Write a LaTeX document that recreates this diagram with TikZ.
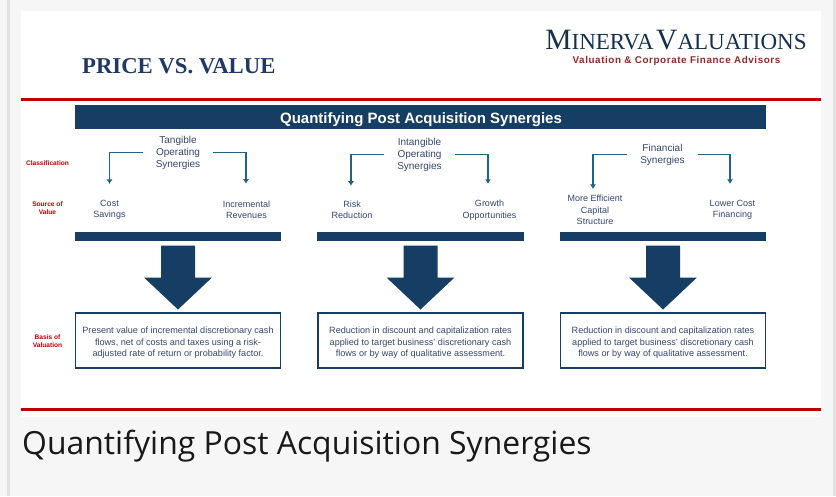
\documentclass[tikz,border=0pt]{standalone}
\usepackage{fontspec}
\setmainfont{Liberation Sans}
\newfontfamily\serifbody{Liberation Serif}
\newfontfamily\captionfont{Open Sans}
\usetikzlibrary{arrows.meta,calc}
\definecolor{navy}{HTML}{163E64}
\definecolor{ink}{HTML}{34466F}
\definecolor{titleink}{HTML}{203864}
\definecolor{redline}{HTML}{C00000}
\definecolor{conn}{HTML}{1F6485}
\definecolor{page}{HTML}{F6F6F6}
\definecolor{edgegray}{HTML}{E2E2E2}
\definecolor{logoink}{HTML}{14304F}
\definecolor{logored}{HTML}{8E2A2A}
\tikzset{
  x=1pt,y=-1pt,
  bar/.style={fill=navy,draw=none},
  redrule/.style={draw=redline,line width=3pt},
  lab/.style={inner sep=0pt,align=center,text=ink,font=\fontsize{9}{11.5}\selectfont},
  toplab/.style={inner sep=0pt,align=center,text=ink,font=\fontsize{10}{12}\selectfont,minimum width=70pt},
  side/.style={inner sep=0pt,align=center,text=redline,font=\fontsize{6.6}{8.2}\selectfont\bfseries},
  basis/.style={draw=navy,line width=1.7pt,fill=white,inner sep=0pt,minimum width=205pt,minimum height=55.5pt,align=center},
  basistext/.style={inner sep=0pt,align=center,text=ink,font=\fontsize{9.1}{11.4}\selectfont},
  link/.style={draw=conn,line width=1.6pt,-{Latex[length=4.5pt,width=6pt]}},
  bigarrow/.style={fill=navy,draw=none}
}
\begin{document}
\begin{tikzpicture}
\useasboundingbox (0,0) rectangle (836,496);
\fill[page] (0,0) rectangle (836,496);
\fill[edgegray] (7,0) rectangle (10,496);
\fill[edgegray] (833,0) rectangle (836,496);
\fill[white] (21,11) rectangle (821,417);
\draw[redrule] (21,99) -- (821,99);
\draw[redrule] (21,409) -- (821,409);

\node[anchor=west,inner sep=0pt,text=titleink,font=\serifbody\bfseries\fontsize{22.7}{24}\selectfont] (title) at (82,66) {PRICE VS.\ VALUE};
\node[inner sep=0pt,text=logoink,font=\serifbody] (logo) at (676,40.5) {{\fontsize{29.5}{28}\selectfont M}{\fontsize{23}{28}\selectfont INERVA} {\fontsize{29.5}{28}\selectfont V}{\fontsize{23}{28}\selectfont ALUATIONS}};
\node[inner sep=0pt,text=logored,font=\bfseries\fontsize{9.85}{11}\selectfont] (tag) at (676.5,60.5) {\addfontfeatures{LetterSpace=6}Valuation \& Corporate Finance Advisors};

\node[bar,minimum width=691pt,minimum height=24pt,inner sep=0pt] (head) at (420.5,117) {};
\node[inner sep=0pt,text=white,font=\bfseries\fontsize{15}{16}\selectfont] (headtext) at (421,119.5) {Quantifying Post Acquisition Synergies};

\node[side] (c1) at (47.5,163) {Classification};
\node[side] (c2) at (47.5,208) {Source of\\Value};
\node[side] (c3) at (47.5,341) {Basis of\\Valuation};

\node[toplab] (t1) at (178,152.5) {Tangible\\Operating\\Synergies};
\node[toplab] (t2) at (419.5,154.5) {Intangible\\Operating\\Synergies};
\node[toplab] (t3) at (662.5,154.5) {Financial\\Synergies};

\node[lab] (s1) at (109.5,210) {Cost\\Savings};
\node[lab] (s2) at (246.5,210) {Incremental\\Revenues};
\node[lab] (s3) at (352,210) {Risk\\Reduction};
\node[lab] (s4) at (489.5,210) {Growth\\Opportunities};
\node[lab] (s5) at (595,210) {More Efficient\\Capital\\Structure};
\node[lab] (s6) at (732.5,210) {Lower Cost\\Financing};

\draw[link,shorten >=16pt] (t1.west) -| (s1.north);
\draw[link,shorten >=17pt,shorten <=-0.5pt] (t1.east) -| ([xshift=-0.5pt]s2.north);
\draw[link,shorten >=15pt] (t2.west) -| ([xshift=-1pt]s3.north);
\draw[link,shorten >=16pt] (t2.east) -| ([xshift=-1.5pt]s4.north);
\draw[link,shorten >=6pt] (t3.west) -| ([xshift=-2pt]s5.north);
\draw[link,shorten >=16pt] (t3.east) -| ([xshift=-2.5pt]s6.north);

\fill[bar] (75,232) rectangle (281,241);
\fill[bar] (317,232) rectangle (523.5,241);
\fill[bar] (560,232) rectangle (766,241);

\foreach \c in {178,420.5,663}{
  \fill[bigarrow] (\c-17,245.5) -- (\c+17,245.5) -- (\c+17,277.5) -- (\c+34,277.5) -- (\c,309.5) -- (\c-34,277.5) -- (\c-17,277.5) -- cycle;
}

\node[basis] (b1) at (178,340.5) {};
\node[basis] (b2) at (420.5,340.5) {};
\node[basis] (b3) at (663,340.5) {};
\node[basistext] (b1t) at (178,343) {Present value of incremental discretionary cash\\flows, net of costs and taxes using a risk-\\adjusted rate of return or probability factor.};
\node[basistext] (b2t) at (420.5,343) {Reduction in discount and capitalization rates\\applied to target business’ discretionary cash\\flows or by way of qualitative assessment.};
\node[basistext] (b3t) at (663,343) {Reduction in discount and capitalization rates\\applied to target business’ discretionary cash\\flows or by way of qualitative assessment.};

\node[anchor=west,inner sep=0pt,text=black!90,font=\captionfont\fontsize{31.9}{36}\selectfont] (cap) at (22,446) {Quantifying Post Acquisition Synergies};
\end{tikzpicture}
\end{document}
